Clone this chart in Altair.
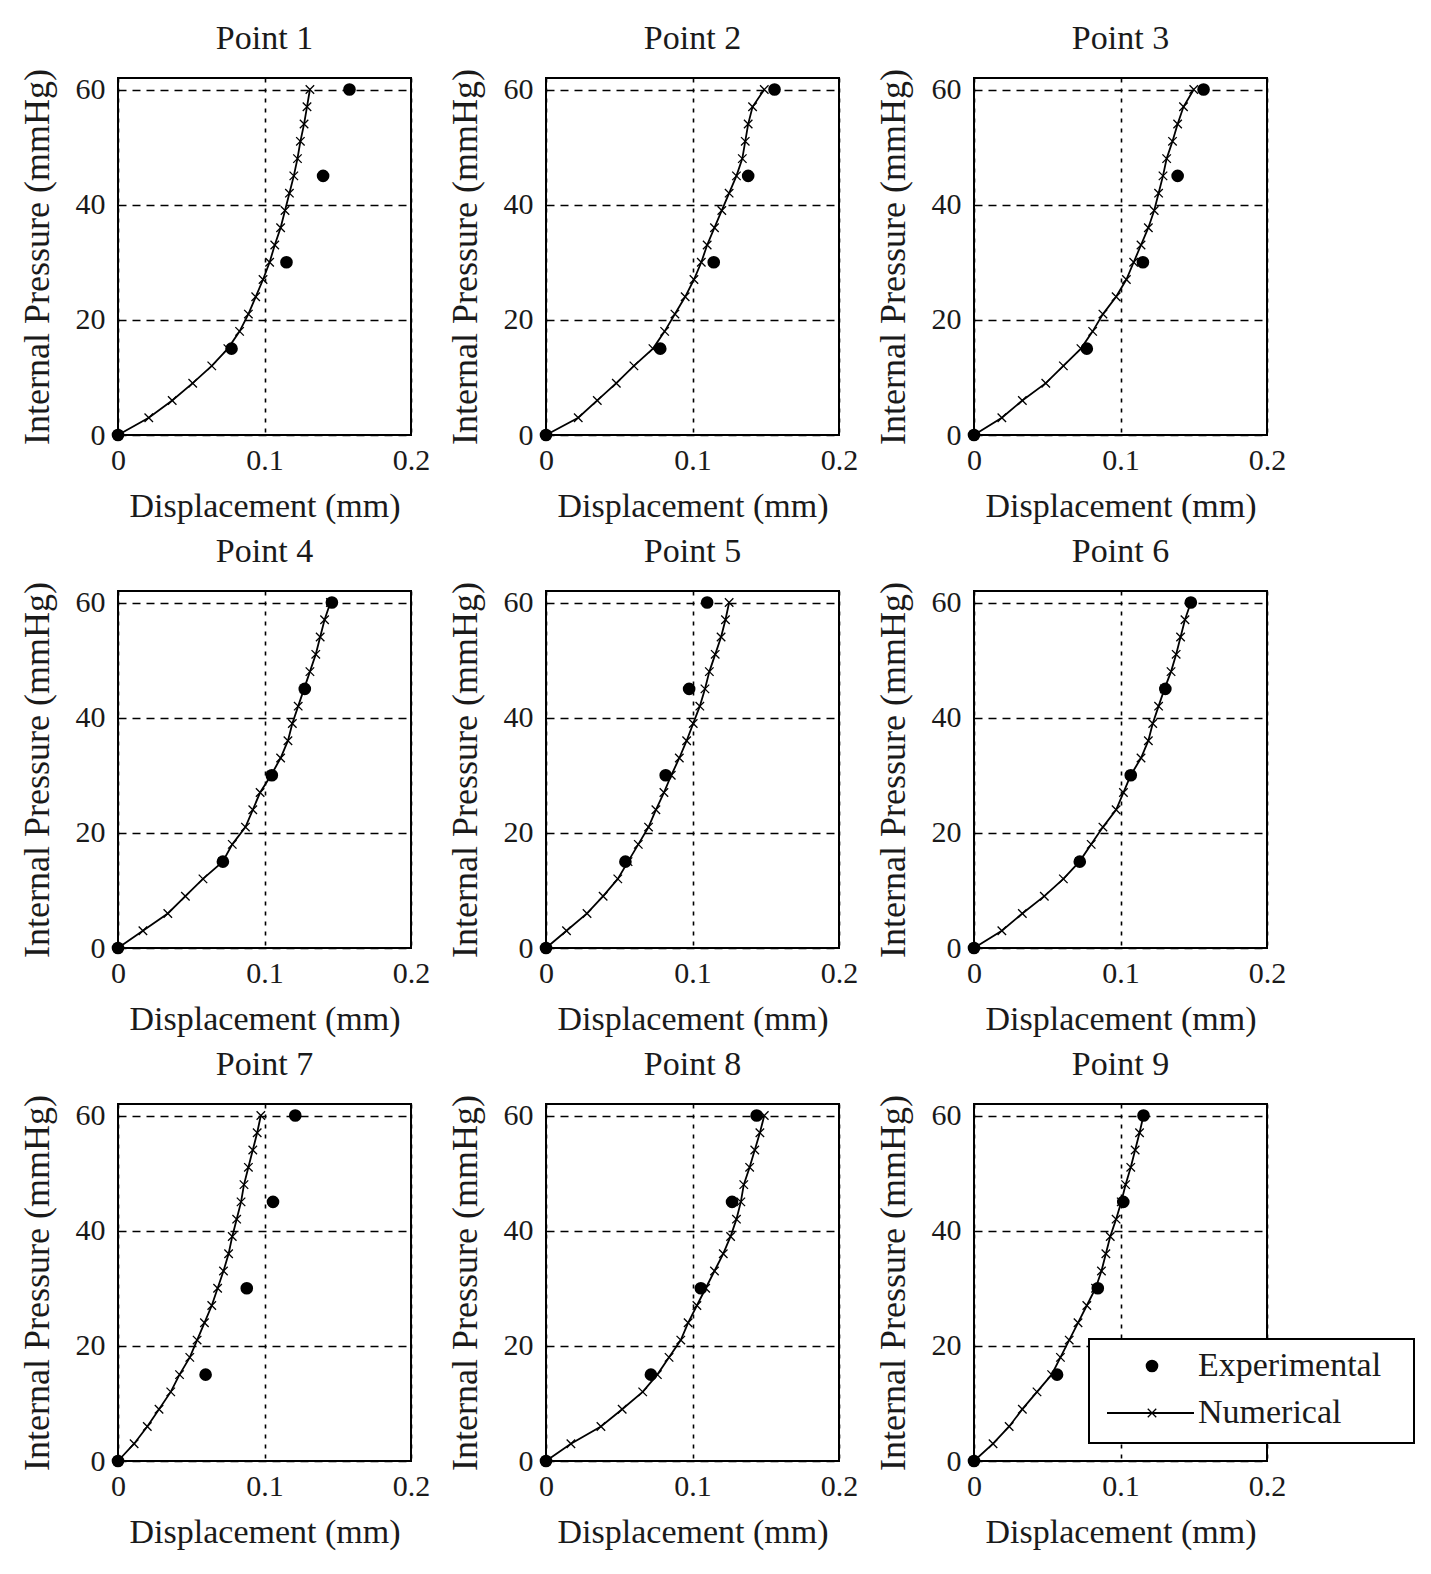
import altair as alt
import pandas as pd

# Loading steps (mmHg) of the numerical model and of the experiment
PRESSURE_NUM = [0, 3, 6, 9, 12, 15, 18, 21, 24, 27, 30, 33, 36, 39, 42, 45, 48, 51, 54, 57, 60]
PRESSURE_EXP = [0, 15, 30, 45, 60]

POINT_NAMES = ["Point 1", "Point 2", "Point 3", "Point 4", "Point 5",
               "Point 6", "Point 7", "Point 8", "Point 9"]

# Measured displacement (mm) at each experimental pressure step
EXP_DISP = [
    [0, 0.0775, 0.115, 0.140, 0.158],
    [0, 0.078, 0.1145, 0.138, 0.156],
    [0, 0.077, 0.1153, 0.139, 0.1567],
    [0, 0.0716, 0.105, 0.1275, 0.146],
    [0, 0.0542, 0.0817, 0.0977, 0.110],
    [0, 0.0722, 0.107, 0.1306, 0.148],
    [0, 0.0598, 0.0879, 0.1058, 0.121],
    [0, 0.0716, 0.1057, 0.127, 0.1438],
    [0, 0.0567, 0.0845, 0.1019, 0.1157],
]

# Simulated displacement (mm) at each numerical pressure step
NUM_DISP = [
    [0, 0.021, 0.037, 0.051, 0.064, 0.075, 0.083, 0.089, 0.094, 0.099, 0.1035,
     0.107, 0.111, 0.114, 0.117, 0.120, 0.1225, 0.1245, 0.127, 0.129, 0.131],
    [0, 0.022, 0.035, 0.048, 0.060, 0.073, 0.081, 0.088, 0.095, 0.101, 0.106,
     0.110, 0.115, 0.120, 0.125, 0.130, 0.134, 0.136, 0.138, 0.141, 0.149],
    [0, 0.019, 0.033, 0.049, 0.061, 0.073, 0.081, 0.088, 0.097, 0.104, 0.109,
     0.114, 0.119, 0.123, 0.126, 0.129, 0.1315, 0.1355, 0.139, 0.143, 0.150],
    [0, 0.017, 0.034, 0.046, 0.058, 0.0715, 0.078, 0.087, 0.092, 0.097, 0.1045,
     0.111, 0.116, 0.119, 0.123, 0.127, 0.131, 0.135, 0.138, 0.141, 0.145],
    [0, 0.014, 0.028, 0.039, 0.049, 0.056, 0.063, 0.070, 0.075, 0.0805, 0.0855,
     0.091, 0.096, 0.1005, 0.105, 0.1085, 0.1115, 0.1155, 0.1195, 0.1225, 0.125],
    [0, 0.019, 0.033, 0.048, 0.061, 0.072, 0.080, 0.088, 0.097, 0.102, 0.107,
     0.114, 0.119, 0.122, 0.126, 0.130, 0.1345, 0.138, 0.141, 0.144, 0.148],
    [0, 0.011, 0.020, 0.028, 0.036, 0.042, 0.049, 0.054, 0.059, 0.064, 0.068,
     0.072, 0.0755, 0.078, 0.081, 0.084, 0.086, 0.089, 0.092, 0.095, 0.0975],
    [0, 0.017, 0.0375, 0.052, 0.066, 0.076, 0.084, 0.092, 0.097, 0.103, 0.109,
     0.115, 0.121, 0.126, 0.130, 0.133, 0.135, 0.139, 0.1425, 0.146, 0.149],
    [0, 0.013, 0.024, 0.033, 0.043, 0.053, 0.059, 0.065, 0.071, 0.077, 0.083,
     0.087, 0.090, 0.093, 0.097, 0.1005, 0.1035, 0.107, 0.110, 0.113, 0.1157],
]

X_TICKS = [0, 0.1, 0.2]
Y_TICKS = [0, 20, 40, 60]
LEGEND_LABELS = ["Experimental", "Numerical"]

FONT = "Liberation Serif"
INK = "#1a1a1a"
X_MARK = "M-1,-1L1,1M-1,1L1,-1"

PLOT_W, PLOT_H = 293, 357


def panel(idx):
    num = pd.DataFrame({"disp": NUM_DISP[idx], "pressure": PRESSURE_NUM})
    exp = pd.DataFrame({"disp": EXP_DISP[idx], "pressure": PRESSURE_EXP})

    x = alt.X("disp:Q", scale=alt.Scale(domain=[0, 0.2], nice=False, zero=False),
              axis=alt.Axis(values=X_TICKS, format="~g", title="Displacement (mm)",
                            gridDash=[4, 6]))
    y = alt.Y("pressure:Q", scale=alt.Scale(domain=[0, 62], nice=False),
              axis=alt.Axis(values=Y_TICKS, title="Internal Pressure (mmHg)",
                            gridDash=[8, 6]))

    line = alt.Chart(num).mark_line(color="black", strokeWidth=1.8).encode(x=x, y=y)
    crosses = alt.Chart(num).mark_point(
        shape=X_MARK, size=72, filled=False, color="black", strokeWidth=1.3, opacity=1
    ).encode(x=x, y=y)
    dots = alt.Chart(exp).mark_circle(size=160, color="black", opacity=1).encode(x=x, y=y)

    layers = [line, crosses, dots]

    if idx == 8:
        legend_box = alt.Chart(pd.DataFrame({"label": ["box"]})).mark_rect(
            fill="white", stroke="black", strokeWidth=2
        ).encode(x=alt.value(115), x2=alt.value(440), y=alt.value(235), y2=alt.value(339))
        exp_entry = pd.DataFrame({"label": [LEGEND_LABELS[0]]})
        num_entry = pd.DataFrame({"label": [LEGEND_LABELS[1]]})
        leg_dot = alt.Chart(exp_entry).mark_circle(size=160, color="black", opacity=1).encode(
            x=alt.value(178), y=alt.value(262))
        leg_line = alt.Chart(num_entry).mark_rule(color="black", strokeWidth=1.8).encode(
            x=alt.value(133), x2=alt.value(220), y=alt.value(309))
        leg_cross = alt.Chart(num_entry).mark_point(
            shape=X_MARK, size=72, filled=False, color="black", strokeWidth=1.3, opacity=1
        ).encode(x=alt.value(178), y=alt.value(309))
        leg_text_exp = alt.Chart(exp_entry).mark_text(
            align="left", baseline="middle", font=FONT, fontSize=34, color=INK
        ).encode(x=alt.value(224), y=alt.value(262), text="label:N")
        leg_text_num = alt.Chart(num_entry).mark_text(
            align="left", baseline="middle", font=FONT, fontSize=34, color=INK
        ).encode(x=alt.value(224), y=alt.value(309), text="label:N")
        layers += [legend_box, leg_dot, leg_line, leg_cross, leg_text_exp, leg_text_num]

    return alt.layer(*layers).properties(
        width=PLOT_W, height=PLOT_H,
        title=alt.TitleParams(POINT_NAMES[idx], font=FONT, fontSize=34, fontWeight="normal",
                              color=INK, offset=13),
    )


chart = alt.concat(
    *[panel(i) for i in range(9)],
    columns=3,
    spacing=alt.RowColnumber(column=135, row=156),
).properties(
    bounds="flush",
    padding={"left": 18, "top": 20, "right": 10, "bottom": 10},
    background="white",
).configure_view(
    stroke="black", strokeWidth=2
).configure_axis(
    labelFont=FONT, labelFontSize=30, labelColor=INK,
    titleFont=FONT, titleFontWeight="normal", titleColor=INK,
    gridColor="black", gridOpacity=1, gridWidth=1.6,
    domain=False, ticks=False, labelFlush=False, labelOverlap=False,
).configure_axisX(
    titleFontSize=34, labelPadding=10, titlePadding=14,
).configure_axisY(
    titleFontSize=36, labelPadding=13, titlePadding=19,
)

chart.save("out.html", embed_options={"renderer": "svg", "actions": False})
